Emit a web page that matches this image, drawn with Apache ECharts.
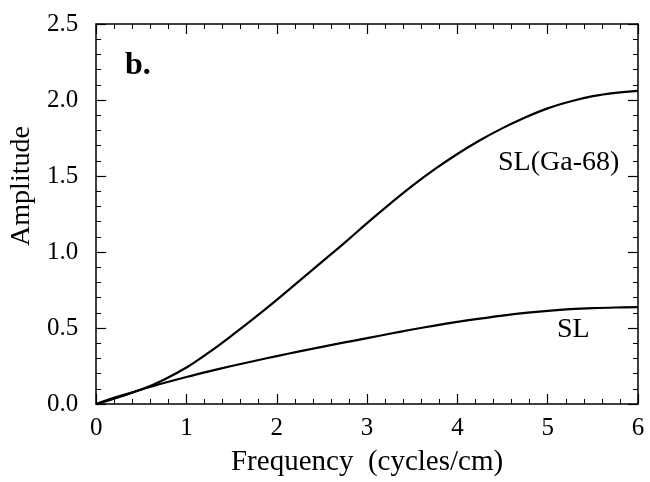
<!DOCTYPE html>
<html>
<head>
<meta charset="utf-8">
<script src="https://cdn.jsdelivr.net/npm/echarts@6/dist/echarts.min.js"></script>
<style>html,body{margin:0;padding:0;background:#fff}#c{width:650px;height:482px}</style>
</head>
<body>
<div id="c"></div>
<script>
var freq = [0, 0.25, 0.5, 0.75, 1.0, 1.25, 1.5, 1.75, 2.0, 2.25, 2.5, 2.75, 3.0, 3.25, 3.5, 3.75, 4.0, 4.25, 4.5, 4.75, 5.0, 5.25, 5.5, 5.75, 6.0];
var slGa68 = [0, 0.045, 0.095, 0.16, 0.24, 0.34, 0.45, 0.565, 0.685, 0.81, 0.935, 1.06, 1.19, 1.315, 1.435, 1.545, 1.645, 1.735, 1.815, 1.885, 1.945, 1.99, 2.025, 2.047, 2.06];
var sl = [0, 0.05, 0.095, 0.138, 0.178, 0.215, 0.25, 0.283, 0.315, 0.346, 0.376, 0.405, 0.433, 0.462, 0.49, 0.516, 0.54, 0.562, 0.582, 0.599, 0.613, 0.624, 0.631, 0.635, 0.637];
var seriesNames = ['SL(Ga-68)', 'SL'];
var panelLabel = 'b.';
var xTitle = 'Frequency  (cycles/cm)';
var yTitle = 'Amplitude';

var font = 'Liberation Serif';
function pairs(xs, ys){ return xs.map(function(x,i){ return [x, ys[i]]; }); }

var chart = echarts.init(document.getElementById('c'), null, {renderer:'canvas'});
var axisCommon = {
  axisLine: {show: true, onZero: false, lineStyle: {color: '#000', width: 1.5}},
  axisTick: {show: true, inside: true, length: 10, lineStyle: {color: '#000', width: 1.2}},
  minorTick: {show: true, splitNumber: 5, length: 5, lineStyle: {color: '#000', width: 1}},
  splitLine: {show: false}
};
chart.setOption({
  animation: false,
  backgroundColor: '#fff',
  grid: {left: 95, right: 12, top: 24, bottom: 78},
  xAxis: [
    Object.assign({}, axisCommon, {
      type: 'value', min: 0, max: 6, interval: 1, position: 'bottom',
      axisLabel: {color: '#000', fontFamily: font, fontSize: 25, margin: 12},
      name: xTitle, nameLocation: 'middle', nameGap: 44,
      nameTextStyle: {color: '#000', fontFamily: font, fontSize: 29}
    }),
    Object.assign({}, axisCommon, {
      type: 'value', min: 0, max: 6, interval: 1, position: 'top',
      axisLabel: {show: false}
    })
  ],
  yAxis: [
    Object.assign({}, axisCommon, {
      type: 'value', min: 0, max: 2.5, interval: 0.5, position: 'left',
      axisLabel: {color: '#000', fontFamily: font, fontSize: 25, margin: 18,
        formatter: function(v){ return v.toFixed(1); }},
      name: yTitle, nameLocation: 'middle', nameGap: 58, nameRotate: 90,
      nameTextStyle: {color: '#000', fontFamily: font, fontSize: 28, padding: [0,0,0,56]}
    }),
    Object.assign({}, axisCommon, {
      type: 'value', min: 0, max: 2.5, interval: 0.5, position: 'right',
      axisLabel: {show: false}
    })
  ],
  series: [
    {name: seriesNames[0], type: 'line', data: pairs(freq, slGa68), smooth: 0.4, symbol: 'none',
     lineStyle: {color: '#000', width: 2.2}},
    {name: seriesNames[1], type: 'line', data: pairs(freq, sl), smooth: 0.4, symbol: 'none',
     lineStyle: {color: '#000', width: 2.2}}
  ],
  graphic: [
    {type: 'text', left: 125, top: 50, style: {text: panelLabel, fill: '#000', font: 'bold 32px "Liberation Serif"'}},
    {type: 'text', x: 498, y: 163, style: {text: seriesNames[0], fill: '#000', font: '28px "Liberation Serif"', verticalAlign: 'middle'}},
    {type: 'text', x: 557, y: 330, style: {text: seriesNames[1], fill: '#000', font: '28px "Liberation Serif"', verticalAlign: 'middle'}}
  ]
});
</script>
</body>
</html>
